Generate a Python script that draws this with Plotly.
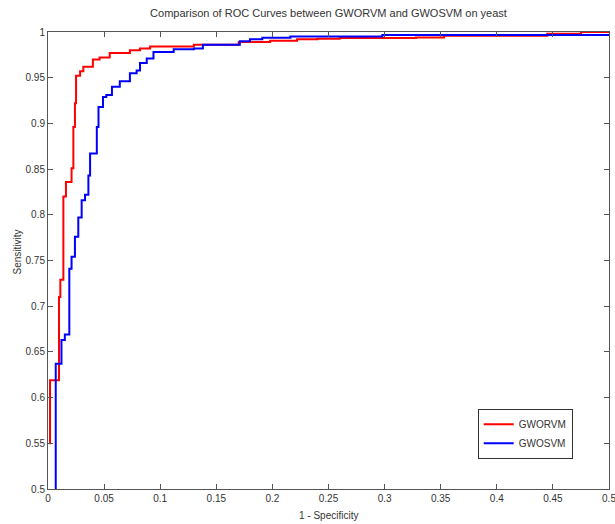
import plotly.graph_objects as go

# GWORVM ROC (step corners: fpr, tpr)
rvm_fpr = [0.0018, 0.0018, 0.0098, 0.011, 0.0137, 0.016, 0.021, 0.0226, 0.024, 0.025,
           0.0286, 0.0315, 0.040, 0.046, 0.055, 0.073, 0.082, 0.091, 0.13, 0.170,
           0.198, 0.222, 0.24, 0.26, 0.328, 0.353, 0.445, 0.475, 0.5]
rvm_tpr = [0.549, 0.619, 0.710, 0.729, 0.820, 0.836, 0.851, 0.896, 0.922, 0.952,
           0.957, 0.962, 0.970, 0.972, 0.977, 0.980, 0.982, 0.984, 0.986, 0.989,
           0.9905, 0.992, 0.9927, 0.9935, 0.994, 0.996, 0.998, 1.0, 1.0]

# GWOSVM ROC
svm_fpr = [0.0069, 0.0069, 0.012, 0.015, 0.019, 0.021, 0.024, 0.027, 0.030, 0.033,
           0.036, 0.0375, 0.0435, 0.045, 0.049, 0.052, 0.057, 0.064, 0.073, 0.079,
           0.082, 0.088, 0.094, 0.112, 0.13, 0.138, 0.171, 0.180, 0.191, 0.216,
           0.298, 0.5]
svm_tpr = [0.5, 0.637, 0.663, 0.669, 0.741, 0.754, 0.776, 0.797, 0.816, 0.822,
           0.843, 0.867, 0.896, 0.918, 0.929, 0.931, 0.940, 0.946, 0.955, 0.958,
           0.966, 0.971, 0.978, 0.981, 0.982, 0.986, 0.990, 0.992, 0.9938, 0.995,
           0.9967, 0.9967]

x_ticks = [0, 0.05, 0.1, 0.15, 0.2, 0.25, 0.3, 0.35, 0.4, 0.45, 0.5]
x_tick_labels = ["0", "0.05", "0.1", "0.15", "0.2", "0.25", "0.3", "0.35", "0.4", "0.45", "0.5"]
y_ticks = [0.5, 0.55, 0.6, 0.65, 0.7, 0.75, 0.8, 0.85, 0.9, 0.95, 1]
y_tick_labels = ["0.5", "0.55", "0.6", "0.65", "0.7", "0.75", "0.8", "0.85", "0.9", "0.95", "1"]

FONT = "Liberation Sans Narrow, Arial Narrow, Liberation Sans, Arial, sans-serif"
AX = "#555555"
TXT = "#333333"

fig = go.Figure()
fig.add_trace(go.Scatter(x=rvm_fpr, y=rvm_tpr, mode="lines", name="GWORVM",
                         line=dict(color="#ff0000", width=2, shape="hv")))
fig.add_trace(go.Scatter(x=svm_fpr, y=svm_tpr, mode="lines", name="GWOSVM",
                         line=dict(color="#0000ff", width=2, shape="hv")))

axis_common = dict(showline=True, linecolor=AX, linewidth=1, mirror="ticks",
                   ticks="inside", ticklen=5, tickcolor=AX, showgrid=False,
                   zeroline=False, ticklabeloverflow="allow", automargin=False,
                   tickfont=dict(family=FONT, size=10, color=TXT))

fig.update_layout(
    width=615, height=524,
    margin=dict(l=48, r=6, t=32, b=35),
    paper_bgcolor="white", plot_bgcolor="white",
    font=dict(family=FONT, size=10, color=TXT),
    title=dict(text="Comparison of ROC Curves between GWORVM and GWOSVM on yeast",
               x=328.5 / 615, xanchor="center",
               y=1 - 13 / 524, yanchor="middle",
               font=dict(family=FONT, size=11, color=TXT)),
    xaxis=dict(range=[0, 0.5], tickvals=x_ticks, ticktext=x_tick_labels,
               **axis_common),
    yaxis=dict(range=[0.5, 1], tickvals=y_ticks, ticktext=y_tick_labels,
               **axis_common),
    legend=dict(x=0.766, y=0.066, xanchor="left", yanchor="bottom",
                bgcolor="white", bordercolor=TXT, borderwidth=1,
                font=dict(family=FONT, size=10, color=TXT),
                tracegroupgap=0, itemwidth=30),
    showlegend=True,
    annotations=[
        dict(text="1 - Specificity", xref="paper", yref="paper",
             x=0.5, y=-26 / 457, xanchor="center", yanchor="middle",
             showarrow=False, font=dict(family=FONT, size=10, color=TXT)),
        dict(text="Sensitivity", xref="paper", yref="paper",
             x=-31 / 561, y=0.5 + 8 / 457, xanchor="center", yanchor="middle",
             textangle=-90, showarrow=False,
             font=dict(family=FONT, size=10, color=TXT)),
    ],
)

fig.write_html("out.html")
